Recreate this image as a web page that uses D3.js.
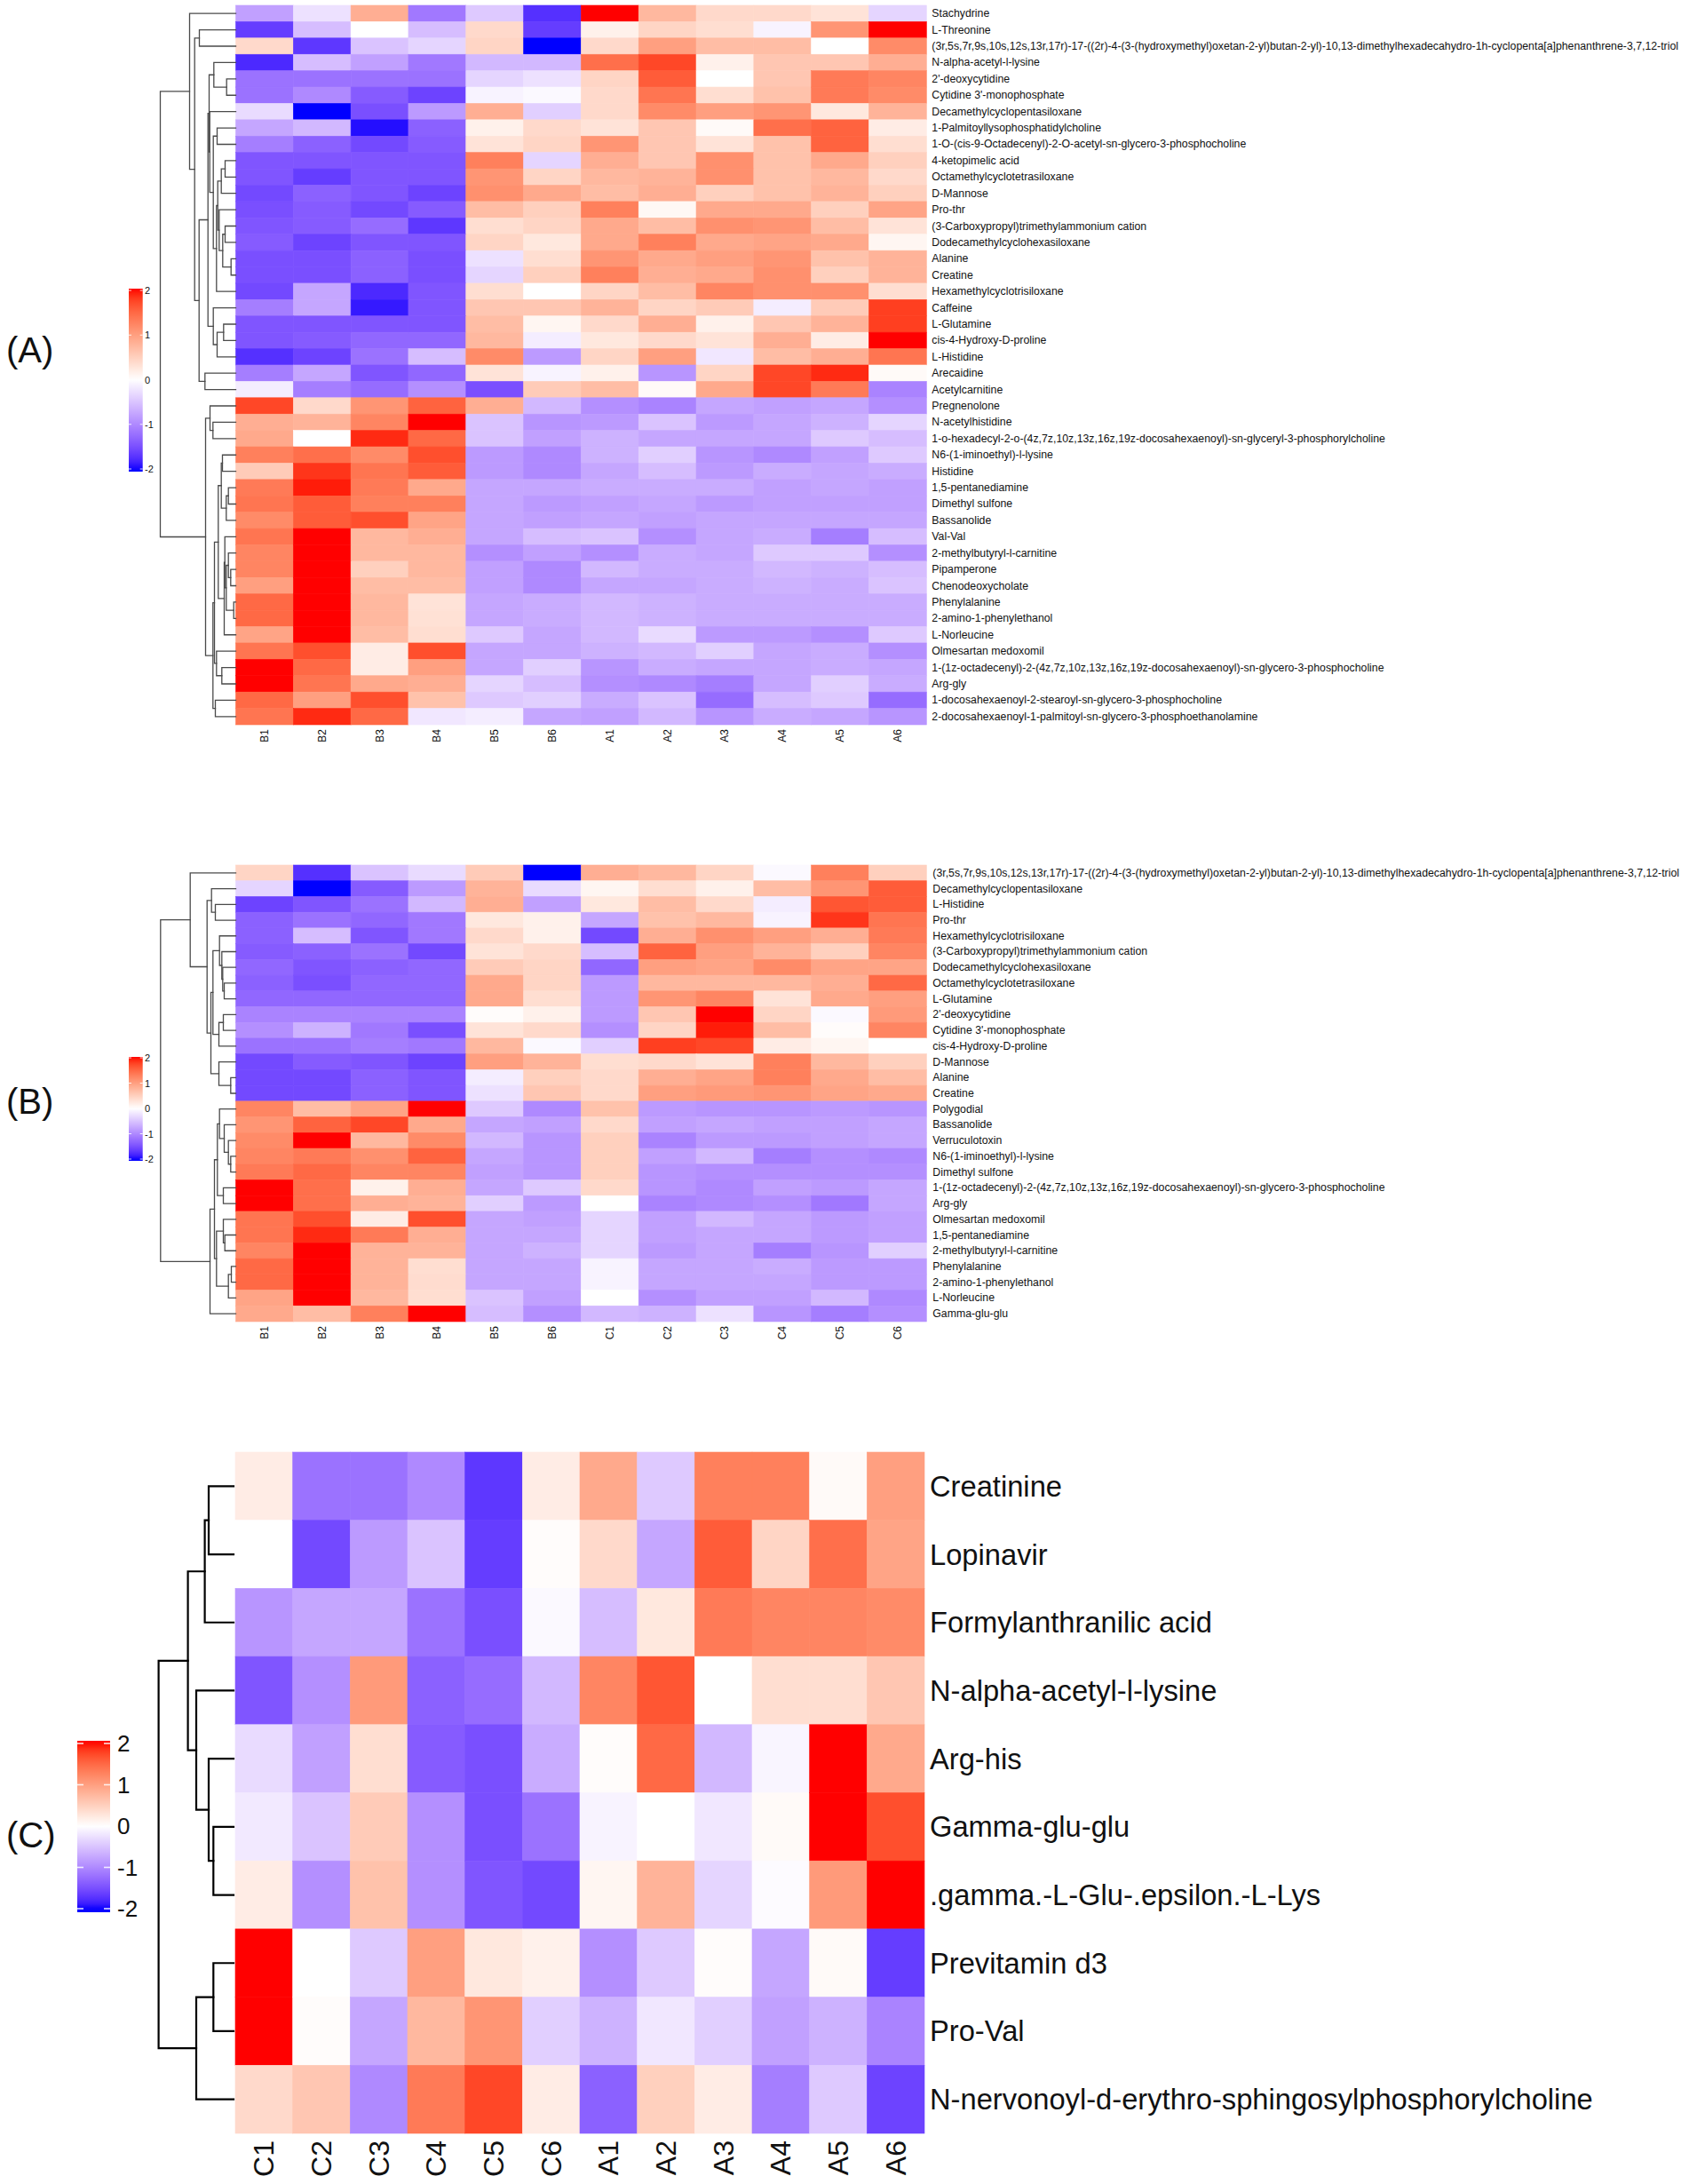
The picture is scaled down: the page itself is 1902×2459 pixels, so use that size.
<!DOCTYPE html>
<html><head><meta charset="utf-8">
<script src="https://cdn.jsdelivr.net/npm/d3@7"></script>
<style>
body{margin:0;background:#fff;}
svg text{font-family:"Liberation Sans", Arial, Helvetica, sans-serif;fill:#111;}
</style>
</head><body>
<svg id="chart" width="1902" height="2459" xmlns="http://www.w3.org/2000/svg"></svg>
<script>
// ---------------- DATA ----------------
const colsA = ["B1","B2","B3","B4","B5","B6","A1","A2","A3","A4","A5","A6"];
const rowsA = [
"Stachydrine","L-Threonine",
"(3r,5s,7r,9s,10s,12s,13r,17r)-17-((2r)-4-(3-(hydroxymethyl)oxetan-2-yl)butan-2-yl)-10,13-dimethylhexadecahydro-1h-cyclopenta[a]phenanthrene-3,7,12-triol",
"N-alpha-acetyl-l-lysine","2'-deoxycytidine","Cytidine 3'-monophosphate","Decamethylcyclopentasiloxane",
"1-Palmitoyllysophosphatidylcholine","1-O-(cis-9-Octadecenyl)-2-O-acetyl-sn-glycero-3-phosphocholine",
"4-ketopimelic acid","Octamethylcyclotetrasiloxane","D-Mannose","Pro-thr","(3-Carboxypropyl)trimethylammonium cation",
"Dodecamethylcyclohexasiloxane","Alanine","Creatine","Hexamethylcyclotrisiloxane","Caffeine","L-Glutamine",
"cis-4-Hydroxy-D-proline","L-Histidine","Arecaidine","Acetylcarnitine","Pregnenolone","N-acetylhistidine",
"1-o-hexadecyl-2-o-(4z,7z,10z,13z,16z,19z-docosahexaenoyl)-sn-glyceryl-3-phosphorylcholine",
"N6-(1-iminoethyl)-l-lysine","Histidine","1,5-pentanediamine","Dimethyl sulfone","Bassanolide","Val-Val",
"2-methylbutyryl-l-carnitine","Pipamperone","Chenodeoxycholate","Phenylalanine","2-amino-1-phenylethanol",
"L-Norleucine","Olmesartan medoxomil",
"1-(1z-octadecenyl)-2-(4z,7z,10z,13z,16z,19z-docosahexaenoyl)-sn-glycero-3-phosphocholine",
"Arg-gly","1-docosahexaenoyl-2-stearoyl-sn-glycero-3-phosphocholine",
"2-docosahexaenoyl-1-palmitoyl-sn-glycero-3-phosphoethanolamine"];
const valsA = [
[-0.8,-0.25,0.85,-1.15,-0.45,-1.75, 2.0,0.75,0.4,0.4,0.3,-0.35],
[-1.65,-0.55,0.0,-0.55,0.4,-1.65, 0.15,0.45,0.35,-0.1,1.1,2.0],
[0.4,-1.7,-0.5,-0.35,0.45,-2.0, 0.4,1.0,0.7,0.7,0.0,1.2],
[-1.8,-0.55,-0.8,-1.15,-0.6,-0.6, 1.45,1.75,0.15,0.6,0.6,0.85],
[-1.2,-1.2,-1.2,-1.2,-0.35,-0.25, 0.45,1.6,0.0,0.6,1.35,1.25],
[-1.2,-1.0,-1.4,-1.6,-0.1,-0.05, 0.4,1.4,0.35,0.65,1.35,1.2],
[-0.3,-2.0,-1.5,-0.85,0.85,-0.4, 0.4,1.2,1.0,1.1,0.25,0.8],
[-0.75,-0.6,-1.95,-1.35,0.15,0.4, 0.3,0.6,0.05,1.45,1.55,0.2],
[-1.1,-1.35,-1.55,-1.4,0.3,0.45, 1.1,0.6,0.3,0.65,1.55,0.35],
[-1.45,-1.45,-1.45,-1.45,1.3,-0.35, 0.85,0.6,1.15,0.65,0.9,0.5],
[-1.45,-1.65,-1.45,-1.45,1.1,0.45, 0.75,0.8,1.15,0.65,0.75,0.4],
[-1.55,-1.35,-1.45,-1.6,1.15,0.9, 0.7,0.85,0.5,0.65,0.8,0.5],
[-1.5,-1.4,-1.55,-1.4,0.7,0.5, 1.3,0.08,0.9,0.9,0.5,0.95],
[-1.45,-1.4,-1.25,-1.7,0.35,0.45, 0.9,0.7,1.15,1.1,0.7,0.3],
[-1.4,-1.6,-1.45,-1.45,0.45,0.25, 0.9,1.3,0.9,0.95,0.9,0.1],
[-1.5,-1.5,-1.35,-1.5,-0.25,0.35, 1.1,0.9,1.0,1.1,0.65,0.8],
[-1.5,-1.5,-1.35,-1.5,-0.35,0.5, 1.3,0.85,0.9,1.15,0.5,0.8],
[-1.55,-0.75,-1.8,-1.45,0.35,0.0, 0.45,0.7,1.25,1.15,1.15,0.35],
[-1.1,-0.75,-1.9,-1.45,0.6,0.6, 0.8,0.45,0.55,-0.15,0.55,1.8],
[-1.45,-1.45,-1.45,-1.45,0.7,0.1, 0.4,0.85,0.15,0.6,0.8,1.8],
[-1.45,-1.4,-1.3,-1.3,0.75,-0.15, 0.25,0.4,0.3,0.85,0.2,2.0],
[-1.75,-1.6,-1.2,-0.55,1.2,-0.85, 0.45,1.0,-0.2,0.7,0.85,1.4],
[-1.1,-0.75,-1.45,-1.3,0.3,-0.1, 0.15,-0.9,0.45,1.75,1.9,0.05],
[-0.15,-1.1,-1.25,-0.95,-1.5,0.55, 0.7,0.05,0.9,1.75,1.35,-1.05],
[1.75,0.4,1.1,1.55,0.85,-0.6, -0.95,-1.05,-0.75,-0.8,-0.75,-0.95],
[0.85,0.8,1.25,2.0,-0.5,-0.9, -0.85,-0.5,-0.85,-0.75,-0.65,-0.35],
[0.9,0.0,1.9,1.5,-0.5,-0.8, -0.65,-0.75,-0.75,-0.75,-0.45,-0.55],
[1.3,1.45,1.2,1.7,-0.85,-1.0, -0.65,-0.4,-0.9,-1.0,-0.8,-0.45],
[0.55,1.85,1.4,1.6,-0.85,-1.0, -0.75,-0.55,-0.85,-0.7,-0.75,-0.7],
[1.35,1.95,1.35,0.9,-0.75,-0.75, -0.7,-0.7,-0.7,-0.8,-0.75,-0.8],
[1.4,1.6,1.3,1.3,-0.75,-0.85, -0.8,-0.75,-0.85,-0.8,-0.8,-0.8],
[1.2,1.6,1.7,0.95,-0.75,-0.8, -0.75,-0.8,-0.75,-0.75,-0.75,-0.75],
[1.4,2.0,0.75,0.85,-0.75,-0.55, -0.5,-0.95,-0.75,-0.7,-1.1,-0.55],
[1.25,2.0,0.75,0.75,-0.95,-0.8, -0.95,-0.7,-0.75,-0.45,-0.45,-0.95],
[1.25,2.0,0.5,0.75,-0.8,-1.0, -0.6,-0.7,-0.7,-0.6,-0.65,-0.55],
[1.0,2.0,0.7,0.7,-0.8,-1.0, -0.75,-0.75,-0.7,-0.65,-0.7,-0.5],
[1.5,2.0,0.75,0.3,-0.75,-0.7, -0.6,-0.65,-0.7,-0.7,-0.7,-0.7],
[1.5,2.0,0.75,0.32,-0.75,-0.7, -0.6,-0.65,-0.7,-0.7,-0.7,-0.7],
[0.95,2.0,0.7,0.35,-0.45,-0.75, -0.6,-0.3,-0.85,-0.85,-0.95,-0.45],
[1.4,1.7,0.2,1.7,-0.75,-0.75, -0.65,-0.6,-0.4,-0.75,-0.7,-0.95],
[2.0,1.5,0.2,1.0,-0.75,-0.4, -0.9,-0.7,-0.75,-0.75,-0.7,-0.75],
[2.0,1.4,0.9,0.85,-0.35,-0.55, -0.95,-1.0,-1.1,-0.75,-0.4,-0.7],
[1.5,1.0,1.7,0.65,-0.45,-0.4, -0.7,-0.5,-1.25,-0.55,-0.45,-1.25],
[1.4,1.9,1.5,-0.2,-0.15,-0.75, -0.8,-0.6,-0.9,-0.7,-0.75,-0.9]];
// dendrogram: [mergeHeight, left, right]; leaves are row indices
const treeA = [85,
  [52, 0, [46.3, [41, 1, 2], [41.3,
    [31.3,
      [30, [24.7, 3, [10.3, 4, 5]],
           [29.3, 6, [25.3, [21, 7, 8], [21.7,
              [20.3, [16.3, [12, 9, 10], 11], [18.7, 12, [14.7, [12, 13, 14], [5.3, 15, 16]]]],
              17]]]],
      [25.3, 18, [21, [13.7, 19, 20], 21]]],
    [34.7, 22, 23]]]],
  [34, [29, 24, [25.7, 25, 26]],
       [25.7, [24,
          [19.7, [16.3, [15, 27, 28], [10.7, [8.3, 29, 30], 31]],
                 [13, [12.3, 32, [10.7, [8.3, 33, [5.7, 34, 35]], [2.3, 36, 37]]], 38]],
          [21.7, 39, [15.7, 40, 41]]],
        [23, 42, 43]]]];

const colsB = ["B1","B2","B3","B4","B5","B6","C1","C2","C3","C4","C5","C6"];
const rowsB = [
"(3r,5s,7r,9s,10s,12s,13r,17r)-17-((2r)-4-(3-(hydroxymethyl)oxetan-2-yl)butan-2-yl)-10,13-dimethylhexadecahydro-1h-cyclopenta[a]phenanthrene-3,7,12-triol",
"Decamethylcyclopentasiloxane","L-Histidine","Pro-thr","Hexamethylcyclotrisiloxane",
"(3-Carboxypropyl)trimethylammonium cation","Dodecamethylcyclohexasiloxane","Octamethylcyclotetrasiloxane",
"L-Glutamine","2'-deoxycytidine","Cytidine 3'-monophosphate","cis-4-Hydroxy-D-proline","D-Mannose","Alanine",
"Creatine","Polygodial","Bassanolide","Verruculotoxin","N6-(1-iminoethyl)-l-lysine","Dimethyl sulfone",
"1-(1z-octadecenyl)-2-(4z,7z,10z,13z,16z,19z-docosahexaenoyl)-sn-glycero-3-phosphocholine",
"Arg-gly","Olmesartan medoxomil","1,5-pentanediamine","2-methylbutyryl-l-carnitine","Phenylalanine",
"2-amino-1-phenylethanol","L-Norleucine","Gamma-glu-glu"];
const valsB = [
[0.45,-1.75,-0.5,-0.3,0.55,-2.0, 0.85,0.75,0.45,-0.05,1.3,0.5],
[-0.35,-2.0,-1.4,-0.85,0.8,-0.3, 0.1,0.35,0.15,0.7,1.1,1.6],
[-1.6,-1.45,-1.2,-0.6,0.85,-0.8, 0.25,0.7,0.4,-0.15,1.65,1.6],
[-1.35,-1.2,-1.3,-1.15,0.25,0.15, -0.75,0.65,0.75,-0.1,1.85,1.4],
[-1.35,-0.55,-1.45,-1.15,0.4,0.15, -1.55,0.85,1.15,1.0,0.85,1.35],
[-1.4,-1.35,-1.2,-1.55,0.3,0.4, -0.55,1.55,1.0,0.8,0.5,1.25],
[-1.3,-1.45,-1.35,-1.3,0.55,0.45, -1.3,1.0,0.95,1.2,0.95,0.95],
[-1.35,-1.5,-1.3,-1.3,0.9,0.45, -0.85,0.75,0.75,0.75,0.85,1.5],
[-1.3,-1.3,-1.3,-1.3,0.9,0.35, -0.85,1.1,1.25,0.3,0.9,1.0],
[-1.05,-1.05,-1.05,-1.05,0.03,0.15, -0.85,0.6,2.0,0.45,-0.05,1.05],
[-0.95,-0.65,-1.15,-1.5,0.3,0.4, -0.95,0.45,1.95,0.7,0.03,1.25],
[-1.2,-1.2,-1.1,-1.15,0.75,-0.05, -0.4,1.8,1.75,0.2,0.1,0.0],
[-1.55,-1.4,-1.45,-1.6,1.0,0.8, 0.35,0.4,0.3,1.3,0.75,0.5],
[-1.55,-1.55,-1.35,-1.45,-0.15,0.5, 0.4,0.85,0.95,1.3,0.9,0.7],
[-1.55,-1.55,-1.35,-1.45,-0.25,0.6, 0.4,1.0,1.05,1.1,0.95,0.9],
[1.25,0.7,0.95,2.0,-0.45,-1.0, 0.65,-0.85,-0.9,-0.9,-0.85,-0.9],
[1.1,1.55,1.75,0.9,-0.75,-0.8, 0.4,-0.8,-0.75,-0.8,-0.8,-0.75],
[1.2,2.0,0.75,1.2,-0.6,-0.9, 0.5,-1.05,-0.85,-0.85,-0.8,-0.75],
[1.25,1.35,1.15,1.55,-0.75,-0.9, 0.5,-0.8,-0.6,-1.1,-0.95,-1.0],
[1.35,1.5,1.25,1.25,-0.8,-0.9, 0.5,-0.9,-0.95,-0.95,-0.95,-0.95],
[2.0,1.45,0.15,0.85,-0.75,-0.45, 0.4,-0.9,-1.0,-0.8,-0.85,-0.75],
[2.0,1.45,0.85,0.8,-0.4,-0.85, 0.0,-1.05,-1.0,-0.95,-1.15,-0.75],
[1.4,1.7,0.2,1.7,-0.75,-0.8, -0.35,-0.8,-0.6,-0.75,-0.85,-0.8],
[1.4,1.9,1.35,0.85,-0.75,-0.75, -0.35,-0.8,-0.75,-0.75,-0.85,-0.8],
[1.25,2.0,0.8,0.8,-0.75,-0.65, -0.35,-0.85,-0.75,-1.1,-0.9,-0.4],
[1.5,2.0,0.8,0.35,-0.75,-0.75, -0.1,-0.75,-0.75,-0.7,-0.85,-0.85],
[1.5,2.0,0.8,0.37,-0.75,-0.75, -0.1,-0.75,-0.75,-0.75,-0.85,-0.85],
[0.95,2.0,0.75,0.35,-0.5,-0.8, 0.0,-0.95,-0.8,-0.8,-0.6,-1.0],
[0.9,0.7,1.3,2.0,-0.55,-0.95, -0.6,-0.65,-0.25,-0.9,-1.1,-0.95]];
const treeB = [84.7,
  [51.3, 0, [32.3, [27.3, 1, [23, 2, 3]],
     [28, [25.7, [18.3, 4, [15.7, 5, [14.7, 6, [13, 7, 8]]]], [19, [14, 9, 10], 11]],
          [19, 12, [5.7, 13, 14]]]]],
  [29, [24,
      [20.7, [18.3, 15, [13, 16, [8.3, 17, [5.7, 18, 19]]]], [14, 20, 21]],
      [21.7, [14, 22, [12.3, 23, 24]], [8.3, [5, 25, 26], 27]]],
    28]];

const colsC = ["C1","C2","C3","C4","C5","C6","A1","A2","A3","A4","A5","A6"];
const rowsC = ["Creatinine","Lopinavir","Formylanthranilic acid","N-alpha-acetyl-l-lysine","Arg-his",
"Gamma-glu-glu",".gamma.-L-Glu-.epsilon.-L-Lys","Previtamin d3","Pro-Val",
"N-nervonoyl-d-erythro-sphingosylphosphorylcholine"];
const valsC = [
[0.2,-1.2,-1.2,-1.0,-1.7,0.2, 0.9,-0.45,1.3,1.3,0.05,1.0],
[0.0,-1.55,-0.85,-0.5,-1.65,0.03, 0.4,-0.75,1.6,0.45,1.45,0.95],
[-0.9,-0.75,-0.75,-1.2,-1.5,-0.05, -0.55,0.25,1.35,1.25,1.25,1.2],
[-1.45,-0.95,1.05,-1.35,-1.25,-0.6, 1.25,1.65,0.0,0.35,0.35,0.6],
[-0.3,-0.8,0.35,-1.4,-1.5,-0.7, 0.03,1.5,-0.6,-0.08,2.0,0.9],
[-0.18,-0.5,0.55,-0.95,-1.5,-1.2, -0.1,0.0,-0.2,0.05,2.0,1.7],
[0.2,-0.95,0.65,-0.95,-1.45,-1.55, 0.1,0.8,-0.35,-0.03,1.05,2.0],
[2.0,0.0,-0.45,1.0,0.25,0.15, -0.95,-0.45,0.03,-0.75,0.05,-1.65],
[2.0,0.03,-0.75,0.75,1.1,-0.4, -0.65,-0.2,-0.4,-0.8,-0.65,-1.05],
[0.4,0.6,-1.0,1.35,1.75,0.2, -1.35,0.5,0.2,-1.1,-0.45,-1.6]];
const treeC = [86.4,
  [53.4, [34.4, [30, 0, 1], 2], [44, 3, [30, 4, [24.7, 5, 6]]]],
  [44, [24.7, 7, 8], 9]];

const legendTicks = [2, 1, 0, -1, -2];

// ---------------- DRAW ----------------
const svg = d3.select("#chart");
svg.append("rect").attr("width",1902).attr("height",2459).attr("fill","#fff");
const color = d3.scaleLinear().domain([-2,0,2]).range(["#0000ff","#ffffff","#ff0000"])
  .interpolate(d3.interpolateLab).clamp(true);
const defs = svg.append("defs");

const panels = [
 {id:"A", rows:rowsA, cols:colsA, vals:valsA, tree:treeA,
  left:265.5, right:1043.3, top:6, bottom:816,
  rowFont:12.3, colFont:12, rowGap:6, colGap:5,
  dendro:{stroke:"#4a4a4a", width:1.3, gap:0},
  legend:{x:145, w:15.7, barTop:325, barBot:531, v2:327, vm2:528, font:11, labelX:163, tick:3, tickW:1},
  tag:{text:"(A)", x:7, y:394, size:40}},
 {id:"B", rows:rowsB, cols:colsB, vals:valsB, tree:treeB,
  left:265.5, right:1043.3, top:974, bottom:1488,
  rowFont:12.3, colFont:12, rowGap:7, colGap:5,
  dendro:{stroke:"#4a4a4a", width:1.3, gap:0},
  legend:{x:145, w:15.7, barTop:1190, barBot:1307, v2:1191, vm2:1305, font:11, labelX:163, tick:3, tickW:1},
  tag:{text:"(B)", x:7, y:1240, size:40}},
 {id:"C", rows:rowsC, cols:colsC, vals:valsC, tree:treeC,
  left:265, right:1041, top:1635, bottom:2402,
  rowFont:32.7, colFont:32, rowGap:6, colGap:8,
  dendro:{stroke:"#000", width:2.2, gap:2},
  legend:{x:87, w:37, barTop:1960, barBot:2153, v2:1963, vm2:2149, font:26, labelX:132, tick:7, tickW:1.6},
  tag:{text:"(C)", x:7, y:2066, size:40}}
];

panels.forEach(p => {
  const g = svg.append("g").attr("class","panel-"+p.id);
  const x = d3.scaleBand().domain(p.cols).range([p.left, p.right]);
  const y = d3.scaleBand().domain(d3.range(p.rows.length)).range([p.top, p.bottom]);

  const cells = [];
  p.vals.forEach((row,i) => row.forEach((v,j) => cells.push({i, c:p.cols[j], v})));
  g.append("g").selectAll("rect").data(cells).join("rect")
    .attr("x", d => x(d.c)).attr("y", d => y(d.i))
    .attr("width", x.bandwidth()).attr("height", y.bandwidth())
    .attr("fill", d => color(d.v)).attr("stroke", d => color(d.v)).attr("stroke-width", 0.6);

  g.append("g").selectAll("text").data(p.rows).join("text")
    .attr("x", p.right + p.rowGap).attr("y", (d,i) => y(i) + y.bandwidth()/2)
    .attr("dominant-baseline","central").attr("font-size", p.rowFont).text(d => d);

  g.append("g").selectAll("text").data(p.cols).join("text")
    .attr("transform", d => `translate(${x(d) + x.bandwidth()/2},${p.bottom + p.colGap}) rotate(-90)`)
    .attr("text-anchor","end").attr("dominant-baseline","central")
    .attr("font-size", p.colFont).text(d => d);

  const hx = d3.scaleLinear().domain([0, p.tree[0]]).range([p.left, p.left - p.tree[0]]);
  const paths = [];
  function lay(node){
    if (typeof node === "number") return {h:0, y:y(node) + y.bandwidth()/2, leaf:true};
    const l = lay(node[1]), r = lay(node[2]);
    const xn = hx(node[0]);
    const xl = l.leaf ? p.left - p.dendro.gap : hx(l.h);
    const xr = r.leaf ? p.left - p.dendro.gap : hx(r.h);
    paths.push(`M${xl},${l.y}H${xn}V${r.y}H${xr}`);
    return {h:node[0], y:(l.y + r.y)/2, leaf:false};
  }
  lay(p.tree);
  g.append("g").selectAll("path").data(paths).join("path")
    .attr("d", d => d).attr("fill","none")
    .attr("stroke", p.dendro.stroke).attr("stroke-width", p.dendro.width)
    .attr("stroke-linecap","square");

  const L = p.legend;
  const ly = d3.scaleLinear().domain([2,-2]).range([L.v2, L.vm2]);
  const gid = "grad" + p.id;
  const grad = defs.append("linearGradient").attr("id", gid)
    .attr("gradientUnits","userSpaceOnUse")
    .attr("x1",0).attr("x2",0).attr("y1", L.barTop).attr("y2", L.barBot);
  d3.range(0, 41).forEach(k => {
    const yy = L.barTop + (L.barBot - L.barTop) * k/40;
    grad.append("stop").attr("offset", k/40).attr("stop-color", color(ly.invert(yy)));
  });
  g.append("rect").attr("x", L.x).attr("y", L.barTop).attr("width", L.w)
    .attr("height", L.barBot - L.barTop).attr("fill", `url(#${gid})`);
  const tg = g.append("g");
  legendTicks.forEach(v => {
    tg.append("line").attr("x1", L.x).attr("x2", L.x + L.tick).attr("y1", ly(v)).attr("y2", ly(v))
      .attr("stroke","#fff").attr("stroke-width", L.tickW).attr("opacity",0.85);
    tg.append("line").attr("x1", L.x + L.w - L.tick).attr("x2", L.x + L.w).attr("y1", ly(v)).attr("y2", ly(v))
      .attr("stroke","#fff").attr("stroke-width", L.tickW).attr("opacity",0.85);
  });
  g.append("g").selectAll("text").data(legendTicks).join("text")
    .attr("x", L.labelX).attr("y", v => ly(v)).attr("dominant-baseline","central")
    .attr("font-size", L.font).text(v => String(v));

  g.append("text").attr("x", p.tag.x).attr("y", p.tag.y).attr("dominant-baseline","central")
    .attr("font-size", p.tag.size).attr("fill","#222").text(p.tag.text);
});
</script>
</body></html>
